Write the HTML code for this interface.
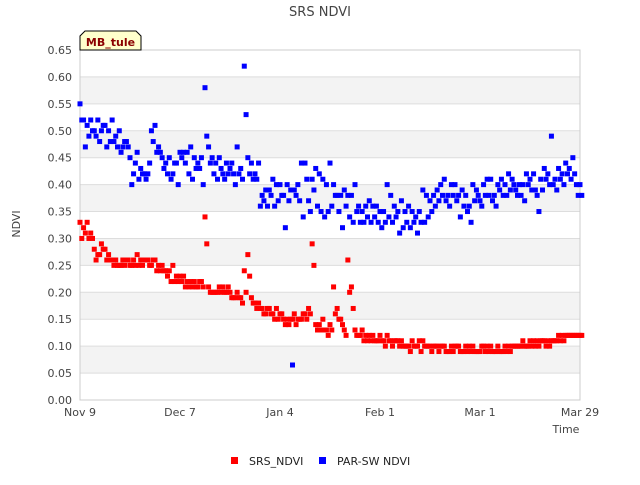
<!DOCTYPE html>
<html><head><meta charset="utf-8"><style>
body{margin:0;background:#fff;font-family:"Liberation Sans","DejaVu Sans",sans-serif;}
svg text{font-family:"DejaVu Sans","Liberation Sans",sans-serif;}
</style></head><body>
<svg id="chart" width="640" height="480" xmlns="http://www.w3.org/2000/svg">
<rect width="640" height="480" fill="#fff"/>
<text x="320" y="16" text-anchor="middle" font-size="13" fill="#444">SRS NDVI</text>
<g id="bands"></g>
<g id="grid"></g>
<rect x="80" y="50" width="500" height="350" fill="none" stroke="#ccc"/>
<g id="yticks"></g><g id="xticks"></g>
<g id="points"></g>
<text transform="translate(20,224) rotate(-90)" text-anchor="middle" font-size="11" fill="#444">NDVI</text>
<text x="566" y="433" text-anchor="middle" font-size="11" fill="#444">Time</text>
<g>
<path d="M80,50 L80,36 L85,31 L136,31 L141,36 L141,50 Z" fill="#ffffcc" stroke="#000"/>
<text x="110.5" y="46" text-anchor="middle" font-size="11" font-weight="bold" fill="#8b0000">MB_tule</text>
</g>
<g><rect x="231" y="457" width="7" height="7" fill="#f00"/><text x="249" y="465" font-size="11" fill="#222">SRS_NDVI</text></g>
<g><rect x="319" y="457" width="7" height="7" fill="#00f"/><text x="337" y="465" font-size="11" fill="#222">PAR-SW NDVI</text></g>
</svg>
<script>
const yTicks=[0,0.05,0.10,0.15,0.20,0.25,0.30,0.35,0.40,0.45,0.50,0.55,0.60,0.65];
const xTickLabels=["Nov 9","Dec 7","Jan 4","Feb 1","Mar 1","Mar 29"];
const xTickDays=[0,28,56,84,112,140];
const srsA=[.33,.32,.33,.31,.28,.27,.29,.28,.27,.26,.26,.25,.26,.26,.25,.26,.27,.26,.26,.26,.25,.26,.25,.25,.24,.24,.25,.23,.23,.23,.22,.22,.22,.21,.22,.34,.21,.20,.20,.21,.21,.20,.20,.19,.20,.19,.24,.27,.19,.18,.18,.17,.16,.17,.16,.17,.16,.15,.15,.15,.16,.15,.15,.16,.17,.29,.14,.14,.15,.13,.14,.21,.17,.15,.13,.26,.21,.13,.12,.13,.12,.12,.12,.11,.12,.11,.12,.11,.11,.11,.11,.10,.10,.11,.10,.11,.11,.10,.10,.10,.10,.10,.10,.09,.10,.10,.10,.09,.10,.10,.10,.09,.09,.10,.10,.10,.09,.10,.09,.10,.10,.10,.10,.10,.11,.10,.11,.11,.11,.11,.11,.11,.11,.11,.12,.12,.12,.12,.12,.12,.12];
const srsB=[.30,.31,.30,.30,.26,.27,.28,.26,.26,.25,.25,.25,.25,.26,.25,.25,.25,.25,.26,.25,.26,.24,.24,.24,.23,.22,.22,.22,.22,.21,.21,.21,.21,.22,.21,.29,.20,.20,.20,.20,.20,.21,.19,.19,.19,.18,.20,.23,.18,.17,.17,.16,.17,.16,.15,.15,.16,.14,.14,.15,.14,.15,.16,.15,.16,.25,.13,.13,.13,.12,.13,.16,.15,.14,.12,.20,.17,.12,.12,.11,.11,.11,.11,.11,.11,.10,.11,.10,.11,.10,.10,.10,.09,.10,.10,.09,.10,.10,.09,.10,.09,.10,.09,.09,.09,.10,.09,.09,.09,.09,.09,.09,.10,.09,.09,.09,.09,.09,.09,.09,.09,.10,.10,.10,.10,.10,.10,.10,.10,.11,.10,.10,.11,.11,.11,.11,.12,.12,.12,.12,.12];
const parA=[.55,.52,.51,.52,.50,.52,.50,.51,.50,.52,.49,.50,.47,.48,.45,.42,.46,.43,.42,.42,.50,.51,.47,.45,.44,.45,.42,.44,.46,.46,.46,.47,.45,.44,.45,.58,.47,.45,.44,.45,.42,.44,.43,.42,.47,.43,.62,.45,.44,.42,.44,.38,.39,.39,.41,.40,.40,.38,.40,.39,.39,.40,.44,.44,.37,.41,.43,.42,.41,.40,.44,.40,.38,.38,.39,.38,.38,.40,.36,.35,.36,.37,.36,.36,.35,.35,.40,.38,.36,.35,.37,.35,.36,.35,.34,.35,.39,.38,.37,.38,.39,.40,.41,.38,.40,.40,.38,.39,.38,.36,.40,.39,.37,.40,.41,.41,.38,.40,.41,.40,.42,.41,.39,.40,.40,.42,.41,.42,.38,.41,.43,.42,.49,.41,.43,.42,.44,.43,.45,.40,.40];
const parB=[.52,.47,.49,.50,.49,.48,.51,.47,.48,.48,.47,.46,.48,.47,.40,.44,.41,.42,.41,.44,.48,.46,.46,.43,.42,.41,.44,.40,.45,.44,.42,.41,.43,.43,.40,.49,.44,.42,.41,.43,.41,.42,.44,.40,.42,.41,.53,.42,.41,.41,.36,.37,.36,.38,.36,.37,.38,.32,.37,.065,.38,.37,.34,.41,.35,.39,.36,.35,.34,.35,.36,.38,.35,.32,.36,.34,.33,.35,.33,.33,.34,.33,.34,.33,.32,.33,.34,.33,.34,.31,.32,.33,.32,.33,.31,.33,.33,.34,.35,.36,.37,.38,.37,.36,.38,.37,.34,.36,.35,.33,.37,.38,.36,.38,.38,.37,.36,.39,.38,.38,.39,.40,.38,.38,.37,.40,.39,.39,.35,.39,.41,.40,.40,.39,.41,.40,.42,.41,.42,.38,.38];
const NS="http://www.w3.org/2000/svg";
const X0=80,X1=580,Y0=400,Y1=50,DAYS=140,YMAX=0.65;
function xs(d){return X0+d*(X1-X0)/DAYS;}
function ys(v){return Y0-v*(Y0-Y1)/YMAX;}
function mk(tag,attrs,parent){const e=document.createElementNS(NS,tag);for(const k in attrs)e.setAttribute(k,attrs[k]);parent.appendChild(e);return e;}
const bands=document.getElementById('bands'),grid=document.getElementById('grid'),yt=document.getElementById('yticks'),xt=document.getElementById('xticks'),pts=document.getElementById('points');
for(let i=0;i<yTicks.length-1;i++){
  if(i%2===1){const r=mk('rect',{x:X0,y:ys(yTicks[i+1]),width:X1-X0,height:ys(yTicks[i])-ys(yTicks[i+1]),fill:'#f3f3f3'},bands);
  
  }
}
yTicks.forEach(v=>{
  const l=mk('line',{x1:X0,x2:X1,y1:ys(v),y2:ys(v),stroke:'#ddd'},grid);
  
  
  const t=mk('text',{x:72,y:ys(v)+4,'text-anchor':'end','font-size':11,fill:'#444'},yt);
  t.textContent=v.toFixed(2);
  
  
});
xTickLabels.forEach((s,i)=>{
  const t=mk('text',{x:xs(xTickDays[i]),y:416,'text-anchor':'middle','font-size':11,fill:'#444'},xt);
  t.textContent=s;
  
  
});
function plot(arr,off,color,name){
  arr.forEach((v,d)=>{
    const r=mk('rect',{x:xs(d+off)-2.5,y:ys(v)-2.5,width:5,height:5,fill:color},pts);
    
    
  });
}
plot(srsA,0,'#f00','srs-point');
plot(srsB,0.5,'#f00','srs-point');
plot(parA,0,'#00f','par-point');
plot(parB,0.5,'#00f','par-point');
</script>
</body></html>
